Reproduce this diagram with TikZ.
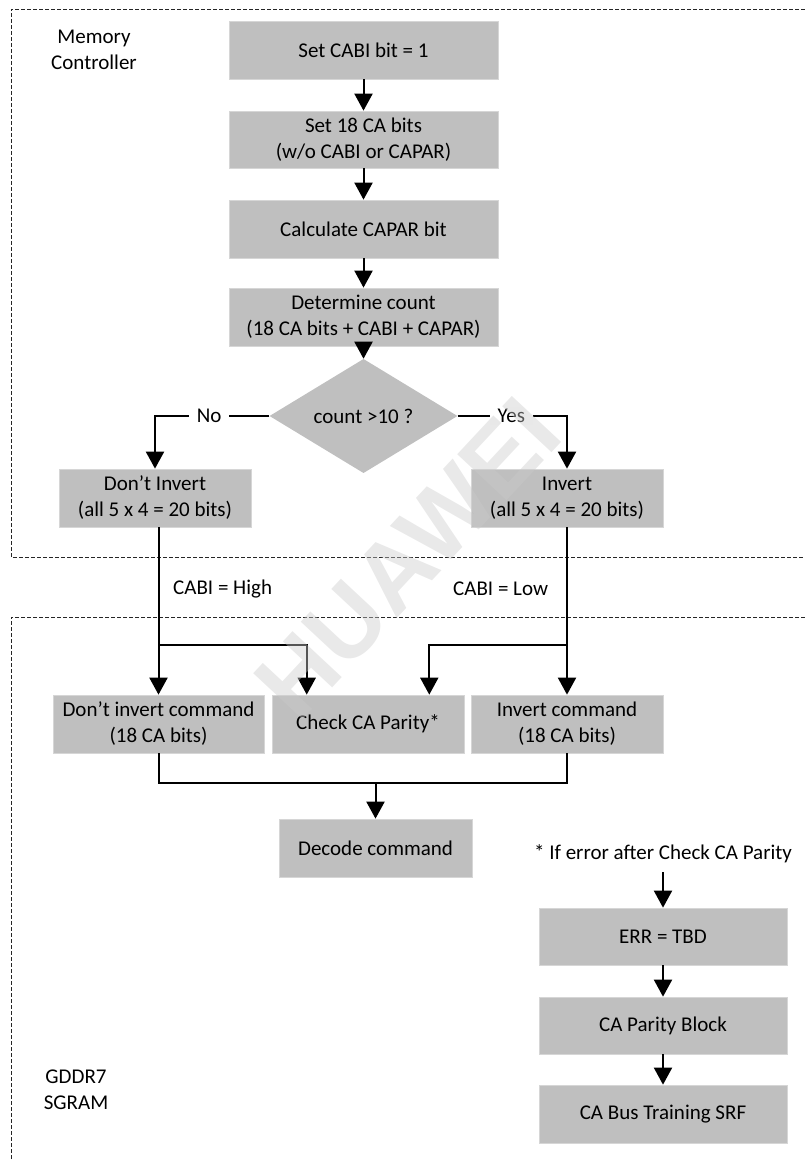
\documentclass[tikz,border=0pt]{standalone}
\usepackage{fontspec}
\setmainfont{Carlito}
\newfontfamily\wmfont{Liberation Sans}
\usetikzlibrary{arrows.meta,shapes.geometric,calc}
\definecolor{boxfill}{RGB}{191,191,191}
\definecolor{boxedge}{RGB}{214,214,214}
\definecolor{wmgray}{RGB}{202,202,202}

\begin{document}
\begin{tikzpicture}[x=1pt,y=-1pt,
  every node/.style={font=\fontsize{21}{26}\selectfont, inner sep=0pt},
  box/.style={draw=boxedge, fill=boxfill, line width=0.7pt, align=center, minimum height=58pt},
  decision/.style={diamond, fill=boxfill, minimum width=188pt, minimum height=76pt},
  flow/.style={line width=2pt, -{Triangle[length=17pt,width=18pt]}},
  link/.style={line width=2pt},
  lane/.style={line width=0.9pt, dash pattern=on 4pt off 2pt, black!85},
  lbl/.style={fill=white, inner xsep=8pt, inner ysep=2pt},
  plain/.style={align=center}]

\useasboundingbox (0,0) rectangle (805,1161);

% swim lanes
\draw[lane] (805,9) -| (11,557) -- (805,557);
\draw[lane] (805,617) -| (11,1161);

% memory controller steps
\node[plain] (mc) at (94,50) {Memory\\Controller};
\node[box, minimum width=269pt] (b1) at (363.5,50) {Set CABI bit = 1};
\node[box, minimum width=269pt, minimum height=57pt] (b2) at (363.5,139.5) {Set 18 CA bits\\(w/o CABI or CAPAR)};
\node[box, minimum width=269pt] (b3) at (363.5,229) {Calculate CAPAR bit};
\node[box, minimum width=269pt] (b4) at (363.5,317) {Determine count\\(18 CA bits + CABI + CAPAR)};
\node[decision] (d) at (363.5,416) {count >10 ?};
\node[box, minimum width=192pt] (dn) at (155,498) {Don’t Invert\\(all 5 x 4 = 20 bits)};
\node[box, minimum width=192pt] (inv) at (567,498) {Invert\\(all 5 x 4 = 20 bits)};

% signal labels between the lanes
\node[anchor=west] (hi) at (173,589) {CABI = High};
\node[anchor=west] (lo) at (453,589) {CABI = Low};

% DRAM side
\node[box, minimum width=211pt] (dic) at (158.5,724) {Don’t invert command\\(18 CA bits)};
\node[box, minimum width=192pt] (ccp) at (368,724) {Check CA Parity*};
\node[box, minimum width=192pt] (ic) at (567,724) {Invert command\\(18 CA bits)};
\node[box, minimum width=193pt] (dec) at (375.5,848) {Decode command};
\node[plain, inner ysep=9pt] (note) at (663,854) {* If error after Check CA Parity};
\node[box, minimum width=248pt, minimum height=57pt] (err) at (663,936.5) {ERR = TBD};
\node[box, minimum width=248pt, minimum height=57pt] (cpb) at (663,1025.5) {CA Parity Block};
\node[box, minimum width=248pt] (cbt) at (663,1114) {CA Bus Training SRF};
\node[plain] (sg) at (76,1089.5) {GDDR7\\SGRAM};

% connectors
\draw[flow] (b1) -- (b2);
\draw[flow] (b2) -- (b3);
\draw[flow] (b3) -- (b4);
\draw[flow] (b4) -- (d);
\draw[flow] (d.west) -| node[lbl, pos=0.263] (lno) {No} (dn.north);
\draw[flow] (d.east) -| node[lbl, pos=0.245] (lyes) {Yes} (inv.north);

\coordinate (jl) at (dic.north |- 0,645);
\coordinate (jr) at (ic.north |- 0,645);
\coordinate (pl) at ($(ccp.north west)!0.182!(ccp.north east)$);
\coordinate (pr) at ($(ccp.north east)!0.182!(ccp.north west)$);

\draw[flow] (dic.north |- dn.south) -- (dic.north);
\draw[flow] (jl) -| (pl);
\draw[flow] (inv) -- (ic);
\draw[flow] (jr) -| (pr);

\draw[link] (dic.south) -- ++(0,30) -| (ic.south);
\draw[flow] (dec.north |- 0,783) -- (dec.north);

\draw[flow] (note) -- (err);
\draw[flow] (err) -- (cpb);
\draw[flow] (cpb) -- (cbt);

% watermark
\node[font=\wmfont\bfseries\fontsize{98}{98}\selectfont, text=wmgray, text opacity=0.42, rotate=47] (wm) at (408,558) {HUAWEI};
\end{tikzpicture}
\end{document}
